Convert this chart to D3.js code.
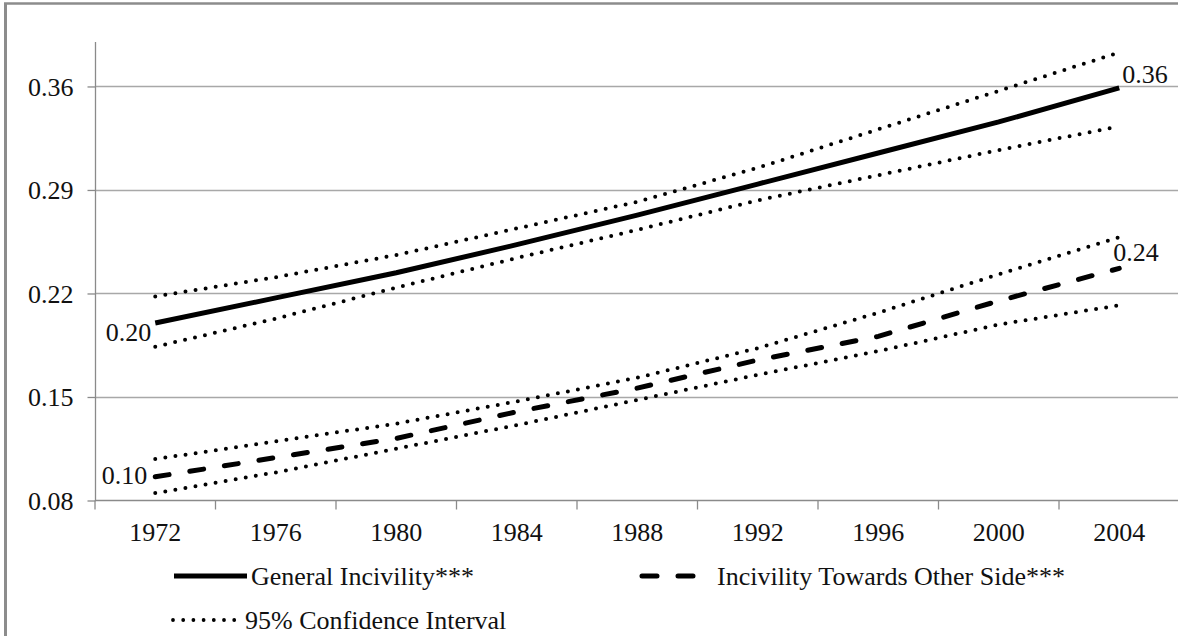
<!DOCTYPE html>
<html><head><meta charset="utf-8">
<script src="https://cdn.jsdelivr.net/npm/d3@7"></script>
<style>
html,body{margin:0;padding:0;background:#fff;overflow:hidden;}
svg{display:block;}
svg text{font-family:"Times New Roman","Liberation Serif","DejaVu Serif",serif !important;fill:#111;}
</style></head>
<body>
<script>
const years = ["1972","1976","1980","1984","1988","1992","1996","2000","2004"];
const generalIncivility = [0.200,0.217,0.234,0.253,0.273,0.294,0.315,0.336,0.359];
const generalUpper      = [0.218,0.231,0.246,0.264,0.282,0.305,0.331,0.357,0.383];
const generalLower      = [0.184,0.203,0.224,0.244,0.263,0.283,0.300,0.317,0.333];
const otherSide         = [0.096,0.109,0.122,0.140,0.156,0.175,0.191,0.215,0.237];
const otherUpper        = [0.108,0.120,0.132,0.147,0.163,0.183,0.207,0.233,0.258];
const otherLower        = [0.085,0.099,0.115,0.131,0.148,0.165,0.181,0.199,0.212];
const yTicks = [0.08,0.15,0.22,0.29,0.36];
const legendLabels = ["General Incivility***","Incivility Towards Other Side***","95% Confidence Interval"];
const endLabels = ["0.20","0.36","0.10","0.24"];

const W = 1178, H = 636;
const FONT = "'Times New Roman','Liberation Serif','DejaVu Serif',serif";
const svg = d3.select("body").append("svg").attr("width", W).attr("height", H);

// frame
svg.append("line").attr("x1",5.5).attr("x2",5.5).attr("y1",3).attr("y2",H).attr("stroke","#8c8c8c").attr("stroke-width",3);
svg.append("line").attr("x1",4).attr("x2",W).attr("y1",3.5).attr("y2",3.5).attr("stroke","#8c8c8c").attr("stroke-width",2.5);

const x = d3.scaleBand().domain(years).range([95, 1179.5]).padding(0);
const y = d3.scaleLinear().domain([0.08, 0.39]).range([500.5, 42.1]);
const cx = d => x(d) + x.bandwidth()/2;

// gridlines
svg.append("g").selectAll("line").data(yTicks.slice(1)).join("line")
  .attr("x1",95).attr("x2",1179).attr("y1",d=>Math.round(y(d))+0.5).attr("y2",d=>Math.round(y(d))+0.5)
  .attr("stroke","#a8a8a8").attr("stroke-width",1.3);

// y axis
const yAxis = d3.axisLeft(y).tickValues(yTicks).tickFormat(d3.format(".2f")).tickSize(8).tickPadding(14);
const gy = svg.append("g").attr("transform","translate(95.5,0)").call(yAxis).attr("font-family",FONT);
gy.select(".domain").attr("stroke","#8a8a8a").attr("stroke-width",1.3).attr("d","M0,42.1V500.5");
gy.selectAll(".tick line").attr("stroke","#8a8a8a").attr("stroke-width",1.3);
gy.selectAll(".tick text").attr("font-size",26).attr("fill","#111").attr("dy","0.33em");

// x axis
const xAxis = d3.axisBottom(x).tickSize(0).tickPadding(22);
const gx = svg.append("g").attr("transform","translate(0,500.5)").call(xAxis).attr("font-family",FONT);
gx.select(".domain").attr("stroke","#8a8a8a").attr("stroke-width",1.3).attr("d","M95,0H1179");
gx.selectAll(".tick text").attr("font-size",26).attr("fill","#111").attr("dy","0.71em");
gx.append("g").selectAll("line").data(years).join("line")
  .attr("x1",d=>x(d)).attr("x2",d=>x(d)).attr("y1",0).attr("y2",9)
  .attr("stroke","#8a8a8a").attr("stroke-width",1.3);

const line = d3.line().x((d,i)=>cx(years[i])).y(d=>y(d));

function drawSeries(data, style){
  const p = svg.append("path").datum(data).attr("d",line).attr("fill","none").attr("stroke","#000");
  if(style==="solid") p.attr("stroke-width",5);
  if(style==="dash") p.attr("stroke-width",5).attr("stroke-dasharray","14 21").attr("stroke-linecap","round");
  if(style==="dot") p.attr("stroke-width",4).attr("stroke-dasharray","0 10.2").attr("stroke-linecap","round");
}
drawSeries(generalUpper,"dot");
drawSeries(generalLower,"dot");
drawSeries(generalIncivility,"solid");
drawSeries(otherUpper,"dot");
drawSeries(otherLower,"dot");
drawSeries(otherSide,"dash");

const lbl = (txt, xx, yy, anchor) => svg.append("text").attr("x",xx).attr("y",yy).attr("text-anchor",anchor)
  .attr("font-family",FONT).attr("font-size",26).text(txt);
lbl(endLabels[0], cx(years[0])-4, y(generalIncivility[0])+18, "end");
lbl(endLabels[1], cx(years[8])+3, y(generalIncivility[8])-5, "start");
lbl(endLabels[2], cx(years[0])-8, y(otherSide[0])+7, "end");
lbl(endLabels[3], cx(years[8])-6, y(otherSide[8])-7, "start");

// legend
const lg = svg.append("g").attr("font-family",FONT);
lg.append("line").attr("x1",174).attr("x2",247).attr("y1",576).attr("y2",576).attr("stroke","#000").attr("stroke-width",5);
lg.append("text").attr("x",251).attr("y",585).attr("font-size",26).text(legendLabels[0]);
lg.append("line").attr("x1",642).attr("x2",696).attr("y1",576).attr("y2",576).attr("stroke","#000").attr("stroke-width",5)
  .attr("stroke-dasharray","15 21").attr("stroke-linecap","round");
lg.append("text").attr("x",717).attr("y",585).attr("font-size",26).text(legendLabels[1]);
lg.append("line").attr("x1",173).attr("x2",235).attr("y1",620).attr("y2",620).attr("stroke","#000").attr("stroke-width",3.8)
  .attr("stroke-dasharray","0 10.2").attr("stroke-linecap","round");
lg.append("text").attr("x",245).attr("y",629).attr("font-size",26).text(legendLabels[2]);
</script>
</body></html>
